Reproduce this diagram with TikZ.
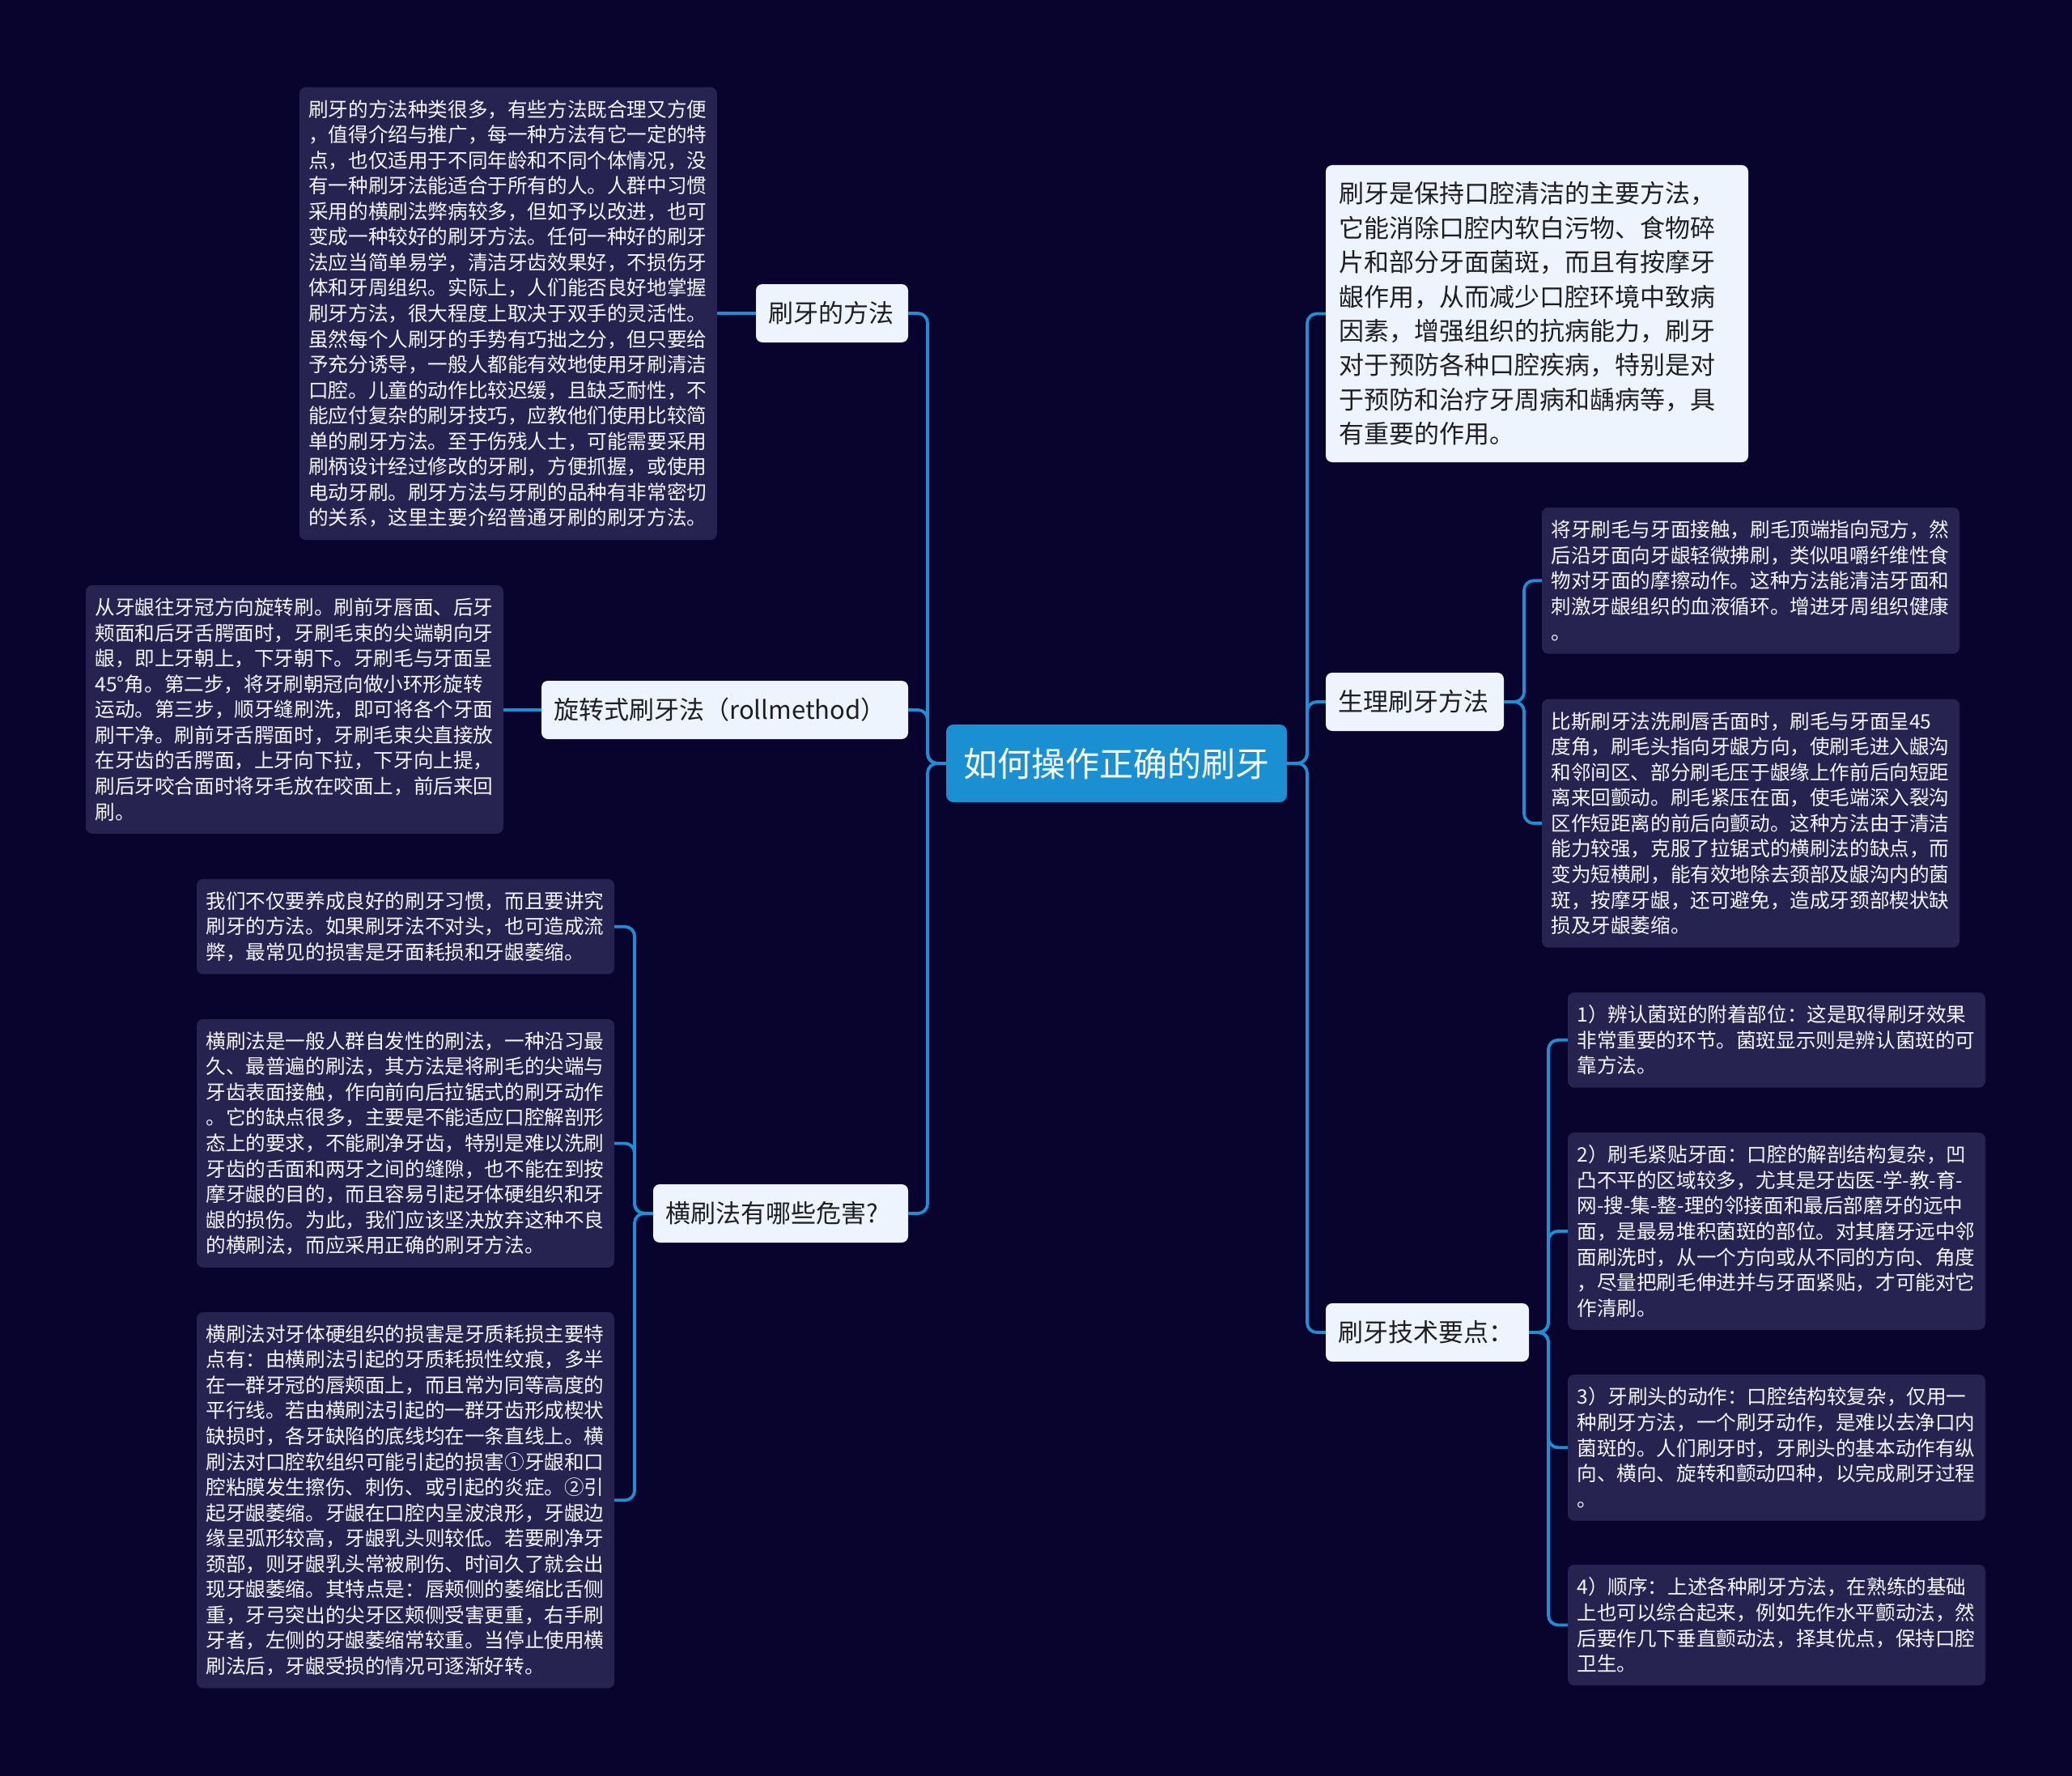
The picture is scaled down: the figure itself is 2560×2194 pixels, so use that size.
\documentclass[tikz,border=0pt]{standalone}
\usepackage{fontspec}
\setmainfont{Noto Sans CJK SC}
\definecolor{bgc}{RGB}{9,4,46}
\definecolor{leafc}{RGB}{39,35,80}
\definecolor{branchc}{RGB}{238,244,253}
\definecolor{rootc}{RGB}{26,144,210}
\definecolor{linec}{RGB}{30,143,213}
\definecolor{leaftext}{RGB}{245,245,250}
\definecolor{branchtext}{RGB}{30,30,34}
\tikzset{
  leafbox/.style={draw=none, fill=leafc, rounded corners=8pt, inner xsep=11.5pt, inner ysep=0pt,
    minimum width=516pt, text width=493pt, align=left, text=leaftext,
    font=\fontsize{24.6pt}{31.56pt}\selectfont, anchor=center},
  branchbox/.style={draw=none, fill=branchc, rounded corners=8pt, inner xsep=15.5pt, inner ysep=0pt,
    minimum height=72pt, align=left, text=branchtext,
    font=\fontsize{31pt}{40pt}\selectfont, anchor=center},
  rootbox/.style={draw=none, fill=rootc, rounded corners=9pt, inner sep=0pt,
    minimum width=421pt, minimum height=96pt, text=white,
    font=\fontsize{42pt}{50pt}\selectfont, anchor=center},
  conn/.style={draw=linec, line width=3.8pt, rounded corners=12pt},
}
\begin{document}
\begin{tikzpicture}[x=1pt,y=-1pt]
\useasboundingbox (0,0) rectangle (2560,2194);
\fill[bgc] (0,0) rectangle (2560,2194);

% root
\node[rootbox] (root) at (1379.5,943) {如何操作正确的刷牙};

% left branches
\node[branchbox, minimum width=188pt, text width=157pt] (b1) at (1028,387) {刷牙的方法};
\node[branchbox, minimum width=453pt, text width=422pt] (b2) at (895.5,877) {旋转式刷牙法（rollmethod）};
\node[branchbox, minimum width=315pt, text width=284pt] (b3) at (964.5,1499) {横刷法有哪些危害?};

% right branches
\node[draw=none, fill=branchc, rounded corners=8pt, inner xsep=16pt, inner ysep=0pt,
  minimum width=522pt, minimum height=367pt, text width=490pt, align=left, text=branchtext,
  font=\fontsize{31pt}{42.4pt}\selectfont, anchor=center] (b4) at (1899,387.5) {刷牙是保持口腔清洁的主要方法，\\它能消除口腔内软白污物、食物碎\\片和部分牙面菌斑，而且有按摩牙\\龈作用，从而减少口腔环境中致病\\因素，增强组织的抗病能力，刷牙\\对于预防各种口腔疾病，特别是对\\于预防和治疗牙周病和龋病等，具\\有重要的作用。};
\node[branchbox, minimum width=220pt, text width=189pt] (b5) at (1748,867) {生理刷牙方法};
\node[branchbox, minimum width=251pt, text width=220pt] (b6) at (1763.5,1646) {刷牙技术要点：};

% left leaves
\node[leafbox, minimum height=559.3pt] (l1) at (627.8,387.4) {刷牙的方法种类很多，有些方法既合理又方便\\，值得介绍与推广，每一种方法有它一定的特\\点，也仅适用于不同年龄和不同个体情况，没\\有一种刷牙法能适合于所有的人。人群中习惯\\采用的横刷法弊病较多，但如予以改进，也可\\变成一种较好的刷牙方法。任何一种好的刷牙\\法应当简单易学，清洁牙齿效果好，不损伤牙\\体和牙周组织。实际上，人们能否良好地掌握\\刷牙方法，很大程度上取决于双手的灵活性。\\虽然每个人刷牙的手势有巧拙之分，但只要给\\予充分诱导，一般人都能有效地使用牙刷清洁\\口腔。儿童的动作比较迟缓，且缺乏耐性，不\\能应付复杂的刷牙技巧，应教他们使用比较简\\单的刷牙方法。至于伤残人士，可能需要采用\\刷柄设计经过修改的牙刷，方便抓握，或使用\\电动牙刷。刷牙方法与牙刷的品种有非常密切\\的关系，这里主要介绍普通牙刷的刷牙方法。};
\node[leafbox, minimum height=306.8pt] (l2) at (364,876.4) {从牙龈往牙冠方向旋转刷。刷前牙唇面、后牙\\颊面和后牙舌腭面时，牙刷毛束的尖端朝向牙\\龈，即上牙朝上，下牙朝下。牙刷毛与牙面呈\\45°角。第二步，将牙刷朝冠向做小环形旋转\\运动。第三步，顺牙缝刷洗，即可将各个牙面\\刷干净。刷前牙舌腭面时，牙刷毛束尖直接放\\在牙齿的舌腭面，上牙向下拉，下牙向上提，\\刷后牙咬合面时将牙毛放在咬面上，前后来回\\刷。};
\node[leafbox, minimum height=117.5pt] (l3a) at (501,1144.7) {我们不仅要养成良好的刷牙习惯，而且要讲究\\刷牙的方法。如果刷牙法不对头，也可造成流\\弊，最常见的损害是牙面耗损和牙龈萎缩。};
\node[leafbox, minimum height=306.8pt] (l3b) at (501,1412.4) {横刷法是一般人群自发性的刷法，一种沿习最\\久、最普遍的刷法，其方法是将刷毛的尖端与\\牙齿表面接触，作向前向后拉锯式的刷牙动作\\。它的缺点很多，主要是不能适应口腔解剖形\\态上的要求，不能刷净牙齿，特别是难以洗刷\\牙齿的舌面和两牙之间的缝隙，也不能在到按\\摩牙龈的目的，而且容易引起牙体硬组织和牙\\龈的损伤。为此，我们应该坚决放弃这种不良\\的横刷法，而应采用正确的刷牙方法。};
\node[leafbox, minimum height=464.6pt] (l3c) at (501,1853.3) {横刷法对牙体硬组织的损害是牙质耗损主要特\\点有：由横刷法引起的牙质耗损性纹痕，多半\\在一群牙冠的唇颊面上，而且常为同等高度的\\平行线。若由横刷法引起的一群牙齿形成楔状\\缺损时，各牙缺陷的底线均在一条直线上。横\\刷法对口腔软组织可能引起的损害①牙龈和口\\腔粘膜发生擦伤、刺伤、或引起的炎症。②引\\起牙龈萎缩。牙龈在口腔内呈波浪形，牙龈边\\缘呈弧形较高，牙龈乳头则较低。若要刷净牙\\颈部，则牙龈乳头常被刷伤、时间久了就会出\\现牙龈萎缩。其特点是：唇颊侧的萎缩比舌侧\\重，牙弓突出的尖牙区颊侧受害更重，右手刷\\牙者，左侧的牙龈萎缩常较重。当停止使用横\\刷法后，牙龈受损的情况可逐渐好转。};

% right leaves
\node[leafbox, minimum height=180.6pt] (r1a) at (2163,717.3) {将牙刷毛与牙面接触，刷毛顶端指向冠方，然\\后沿牙面向牙龈轻微拂刷，类似咀嚼纤维性食\\物对牙面的摩擦动作。这种方法能清洁牙面和\\刺激牙龈组织的血液循环。增进牙周组织健康\\。};
\node[leafbox, minimum height=306.8pt] (r1b) at (2163,1017.1) {比斯刷牙法洗刷唇舌面时，刷毛与牙面呈45\\度角，刷毛头指向牙龈方向，使刷毛进入龈沟\\和邻间区、部分刷毛压于龈缘上作前后向短距\\离来回颤动。刷毛紧压在面，使毛端深入裂沟\\区作短距离的前后向颤动。这种方法由于清洁\\能力较强，克服了拉锯式的横刷法的缺点，而\\变为短横刷，能有效地除去颈部及龈沟内的菌\\斑，按摩牙龈，还可避免，造成牙颈部楔状缺\\损及牙龈萎缩。};
\node[leafbox, minimum height=117.5pt] (r2a) at (2195,1284.8) {1）辨认菌斑的附着部位：这是取得刷牙效果\\非常重要的环节。菌斑显示则是辨认菌斑的可\\靠方法。};
\node[leafbox, minimum height=243.7pt] (r2b) at (2195,1520.9) {2）刷毛紧贴牙面：口腔的解剖结构复杂，凹\\凸不平的区域较多，尤其是牙齿医-学-教-育-\\网-搜-集-整-理的邻接面和最后部磨牙的远中\\面，是最易堆积菌斑的部位。对其磨牙远中邻\\面刷洗时，从一个方向或从不同的方向、角度\\，尽量把刷毛伸进并与牙面紧贴，才可能对它\\作清刷。};
\node[leafbox, minimum height=180.6pt] (r2c) at (2195,1788.3) {3）牙刷头的动作：口腔结构较复杂，仅用一\\种刷牙方法，一个刷牙动作，是难以去净口内\\菌斑的。人们刷牙时，牙刷头的基本动作有纵\\向、横向、旋转和颤动四种，以完成刷牙过程\\。};
\node[leafbox, minimum height=149pt] (r2d) at (2195,2007.5) {4）顺序：上述各种刷牙方法，在熟练的基础\\上也可以综合起来，例如先作水平颤动法，然\\后要作几下垂直颤动法，择其优点，保持口腔\\卫生。};

% trunk coordinates
\coordinate (tl) at (1146,943);
\coordinate (tr) at (1615,943);
\coordinate (t3) at (784,1499);
\coordinate (t5) at (1883,867);
\coordinate (t6) at (1913,1646);

% root connectors
\foreach \c in {b1,b2,b3} \draw[conn] (root.west) -- (tl) |- (\c.east);
\foreach \c in {b4,b5,b6} \draw[conn] (root.east) -- (tr) |- (\c.west);

% branch connectors
\draw[conn] (b1.west) -- (l1.east |- b1.west);
\draw[conn] (b2.west) -- (l2.east |- b2.west);
\foreach \c in {l3a,l3b,l3c} \draw[conn] (b3.west) -- (t3) |- (\c.east);
\foreach \c in {r1a,r1b} \draw[conn] (b5.east) -- (t5) |- (\c.west);
\foreach \c in {r2a,r2b,r2c,r2d} \draw[conn] (b6.east) -- (t6) |- (\c.west);
\end{tikzpicture}
\end{document}
